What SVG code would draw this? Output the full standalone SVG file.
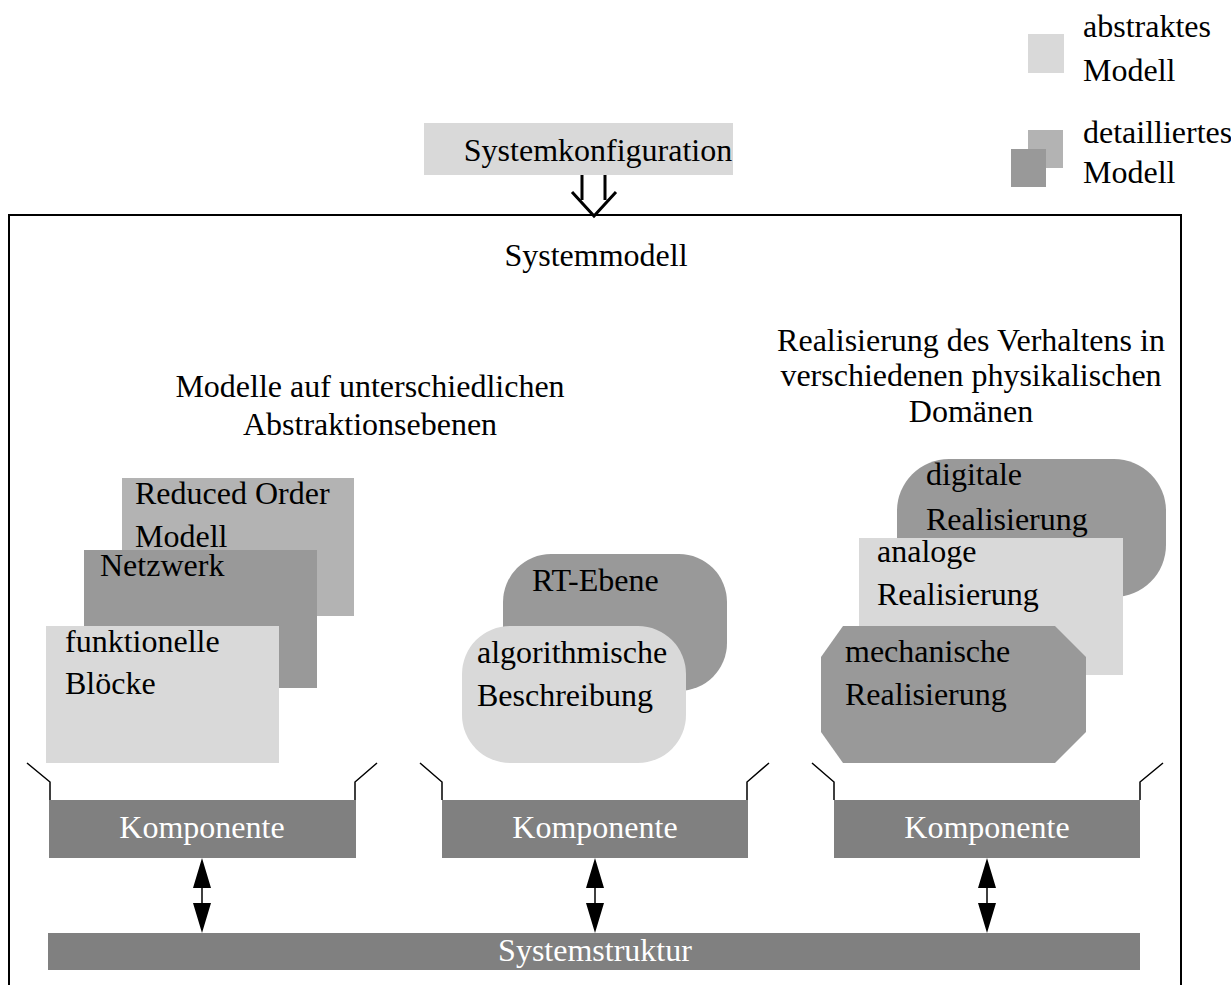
<svg xmlns="http://www.w3.org/2000/svg" width="1231" height="985" viewBox="0 0 1231 985">
  <style>
    text { font-family: "Liberation Serif", "Times New Roman", serif; font-size: 32px; fill: #000; }
    .mid { text-anchor: middle; }
    .inv { fill: #fff; }
    .light { fill: #d9d9d9; }
    .medium { fill: #b3b3b3; }
    .dark { fill: #999999; }
    .bar { fill: #808080; }
    .line { fill: none; stroke: #000; stroke-width: 1.5; }
    .frame { fill: none; stroke: #000; stroke-width: 2; }
  </style>
  <defs>
    <marker id="head" viewBox="0 0 18 30" refX="18" refY="9" markerWidth="30" markerHeight="18" markerUnits="userSpaceOnUse" orient="auto">
      <path d="M0,0 L18,9 L0,18 Z" fill="#000"/>
    </marker>
  </defs>

  <rect width="1231" height="985" fill="#fff"/>

  <!-- legend -->
  <g id="legend">
    <rect class="light" x="1028" y="34" width="36" height="39"/>
    <text x="1083" y="37">abstraktes</text>
    <text x="1083" y="81">Modell</text>
    <rect class="medium" x="1028" y="130" width="35" height="38"/>
    <rect class="dark" x="1011" y="149" width="35" height="38"/>
    <text x="1083" y="143">detailliertes</text>
    <text x="1083" y="183">Modell</text>
  </g>

  <!-- configuration input -->
  <g id="systemkonfiguration">
    <rect class="light" x="424" y="123" width="309" height="52"/>
    <text class="mid" x="598" y="161">Systemkonfiguration</text>
  </g>

  <!-- system model frame -->
  <g id="systemmodell">
    <path class="frame" d="M9,990 L9,215 L1181,215 L1181,990"/>
    <text class="mid" x="596" y="266">Systemmodell</text>
    <text class="mid" x="370" y="397">Modelle auf unterschiedlichen</text>
    <text class="mid" x="370" y="435">Abstraktionsebenen</text>
    <text class="mid" x="971" y="351">Realisierung des Verhaltens in</text>
    <text class="mid" x="971" y="386">verschiedenen physikalischen</text>
    <text class="mid" x="971" y="422">Domänen</text>
  </g>

  <!-- abstraction levels -->
  <g id="reduced-order">
    <rect class="medium" x="122" y="478" width="232" height="138"/>
    <text x="135" y="504">Reduced Order</text>
    <text x="135" y="547">Modell</text>
  </g>
  <g id="netzwerk">
    <rect class="dark" x="84" y="550" width="233" height="138"/>
    <text x="100" y="576">Netzwerk</text>
  </g>
  <g id="funktionelle-bloecke">
    <rect class="light" x="46" y="626" width="233" height="137"/>
    <text x="65" y="652">funktionelle</text>
    <text x="65" y="694">Blöcke</text>
  </g>

  <g id="rt-ebene">
    <rect class="dark" x="503" y="554" width="224" height="137" rx="48" ry="48"/>
    <text x="532" y="591">RT-Ebene</text>
  </g>
  <g id="algorithmische-beschreibung">
    <rect class="light" x="462" y="626" width="224" height="137" rx="48" ry="48"/>
    <text x="477" y="663">algorithmische</text>
    <text x="477" y="706">Beschreibung</text>
  </g>

  <!-- physical domains -->
  <g id="digitale-realisierung">
    <rect class="dark" x="897" y="459" width="269" height="138" rx="52" ry="52"/>
    <text x="926" y="485">digitale</text>
    <text x="926" y="530">Realisierung</text>
  </g>
  <g id="analoge-realisierung">
    <rect class="light" x="859" y="538" width="264" height="137"/>
    <text x="877" y="562">analoge</text>
    <text x="877" y="605">Realisierung</text>
  </g>
  <g id="mechanische-realisierung">
    <polygon class="dark" points="843,626 1055,626 1086,657 1086,732 1055,763 843,763 821,732 821,657"/>
    <text x="845" y="662">mechanische</text>
    <text x="845" y="705">Realisierung</text>
  </g>

  <!-- components -->
  <g id="komponente-1">
    <rect class="bar" x="49" y="800" width="307" height="58"/>
    <text class="mid inv" x="202" y="838">Komponente</text>
  </g>
  <g id="komponente-2">
    <rect class="bar" x="442" y="800" width="306" height="58"/>
    <text class="mid inv" x="595" y="838">Komponente</text>
  </g>
  <g id="komponente-3">
    <rect class="bar" x="834" y="800" width="306" height="58"/>
    <text class="mid inv" x="987" y="838">Komponente</text>
  </g>

  <g id="systemstruktur">
    <rect class="bar" x="48" y="933" width="1092" height="37"/>
    <text class="mid inv" x="595" y="961">Systemstruktur</text>
  </g>

  <!-- connectors -->
  <g id="connectors">
    <!-- configuration feed into the model -->
    <path d="M582,175 L582,200 M605,175 L605,200" fill="none" stroke="#000" stroke-width="3"/>
    <path d="M572,192 L594,216 L616,192" fill="none" stroke="#000" stroke-width="3"/>

    <!-- brackets linking the model groups to their components -->
    <path class="line" d="M27,763 L50,782 L50,800 M377,763 L355,782 L355,800"/>
    <path class="line" d="M420,763 L442,782 L442,800 M769,763 L747,782 L747,800"/>
    <path class="line" d="M812,763 L834,782 L834,800 M1163,763 L1140,782 L1140,800"/>

    <!-- component / structure exchange -->
    <g fill="#000">
      <path d="M202,858 L211,888 L193,888 Z M202,933 L211,903 L193,903 Z"/>
      <path d="M595,858 L604,888 L586,888 Z M595,933 L604,903 L586,903 Z"/>
      <path d="M987,858 L996,888 L978,888 Z M987,933 L996,903 L978,903 Z"/>
    </g>
    <path class="line" d="M202,888 L202,903 M595,888 L595,903 M987,888 L987,903"/>
  </g>
</svg>
